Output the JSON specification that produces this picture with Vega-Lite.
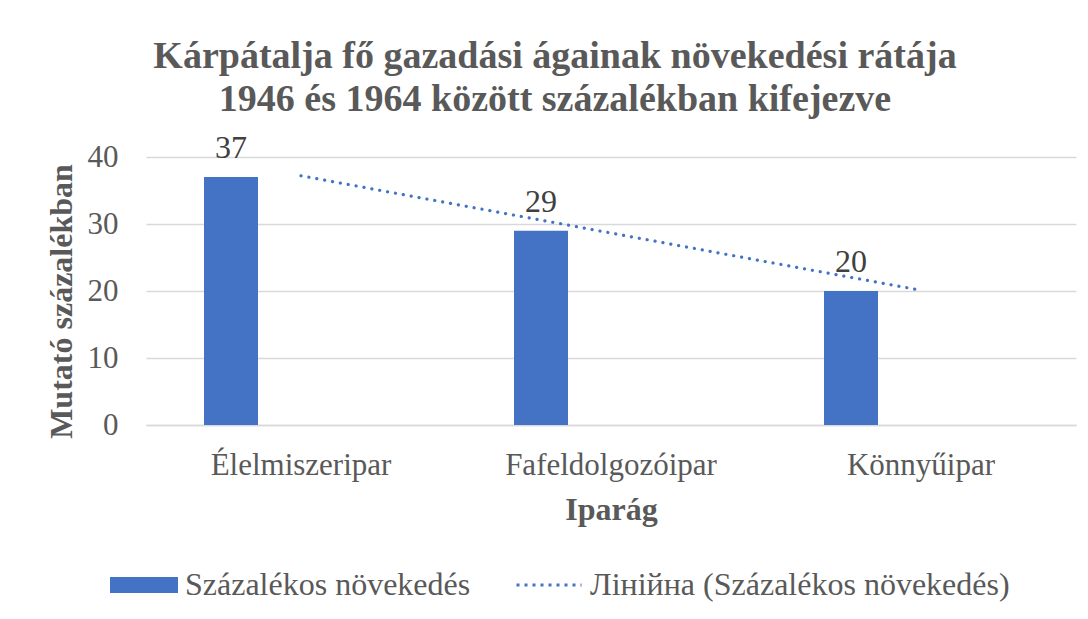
{
  "$schema": "https://vega.github.io/schema/vega-lite/v6.json",
  "autosize": "none",
  "width": 930,
  "height": 268,
  "padding": {"left": 146, "top": 157, "right": 12, "bottom": 194},
  "background": "white",
  "config": {
    "view": {"stroke": null},
    "font": "Liberation Serif",
    "axis": {
      "labelFont": "Liberation Serif",
      "titleFont": "Liberation Serif",
      "labelColor": "#595959",
      "titleColor": "#595959",
      "labelFontSize": 31,
      "titleFontSize": 32,
      "titleFontWeight": "bold",
      "labelLimit": 1000,
      "tickSize": 0,
      "ticks": false
    },
    "legend": {
      "labelFont": "Liberation Serif",
      "labelFontSize": 32,
      "labelColor": "#595959",
      "labelLimit": 1000,
      "padding": 0
    }
  },
  "title": {
    "text": ["Kárpátalja fő gazadási ágainak növekedési rátája", "1946 és 1964 között százalékban kifejezve"],
    "font": "Liberation Serif",
    "fontSize": 38,
    "fontWeight": "bold",
    "color": "#595959",
    "anchor": "middle",
    "dx": -56,
    "lineHeight": 43,
    "offset": 13
  },
  "datasets": {
    "bars": [
      {"Iparág": "Élelmiszeripar", "érték": 37, "sorozat": "Százalékos növekedés"},
      {"Iparág": "Fafeldolgozóipar", "érték": 29, "sorozat": "Százalékos növekedés"},
      {"Iparág": "Könnyűipar", "érték": 20, "sorozat": "Százalékos növekedés"}
    ],
    "trend": [
      {"Iparág": "Élelmiszeripar", "trend": 37.2, "sorozat": "Лінійна (Százalékos növekedés)"},
      {"Iparág": "Könnyűipar", "trend": 20.1, "sorozat": "Лінійна (Százalékos növekedés)"}
    ]
  },
  "layer": [
    {
      "data": {"name": "bars"},
      "mark": {"type": "bar", "width": 54, "xOffset": -70},
      "encoding": {
        "x": {
          "field": "Iparág", "type": "nominal", "sort": null,
          "scale": {"domain": ["Élelmiszeripar", "Fafeldolgozóipar", "Könnyűipar"], "paddingInner": 0, "paddingOuter": 0},
          "axis": {"title": "Iparág", "labelAngle": 0, "labelPadding": 25, "titlePadding": 14, "domainColor": "#D9D9D9", "domainWidth": 1.5}
        },
        "y": {
          "field": "érték", "type": "quantitative",
          "scale": {"domain": [0, 40]},
          "axis": {"title": "Mutató százalékban", "values": [0, 10, 20, 30, 40], "domain": false, "gridColor": "#D9D9D9", "gridWidth": 1.5, "labelPadding": 28, "titlePadding": 9, "titleY": 144}
        },
        "fill": {
          "field": "sorozat", "type": "nominal",
          "scale": {"range": ["#4472C4"]},
          "legend": {"title": null, "orient": "none", "legendX": -36, "legendY": 394, "direction": "horizontal", "symbolType": "M-1,-0.235H1V0.235H-1Z", "symbolSize": 4624, "symbolStrokeWidth": 0, "labelOffset": 7}
        }
      }
    },
    {
      "data": {"name": "bars"},
      "mark": {"type": "text", "xOffset": -70, "dy": -29, "baseline": "middle", "font": "Liberation Serif", "fontSize": 32, "color": "#404040"},
      "encoding": {
        "x": {"field": "Iparág", "type": "nominal", "sort": null},
        "y": {"field": "érték", "type": "quantitative"},
        "text": {"field": "érték", "type": "quantitative"}
      }
    },
    {
      "data": {"name": "trend"},
      "mark": {"type": "line", "strokeDash": [0.1, 7.9], "strokeCap": "round", "strokeWidth": 3.2},
      "encoding": {
        "x": {"field": "Iparág", "type": "nominal", "sort": null},
        "y": {"field": "trend", "type": "quantitative"},
        "stroke": {
          "field": "sorozat", "type": "nominal",
          "scale": {"range": ["#4472C4"]},
          "legend": {"title": null, "orient": "none", "legendX": 369, "legendY": 394, "direction": "horizontal", "symbolType": "stroke", "symbolSize": 4225, "symbolStrokeWidth": 3, "symbolDash": [3, 5], "labelOffset": 7}
        }
      }
    }
  ]
}
